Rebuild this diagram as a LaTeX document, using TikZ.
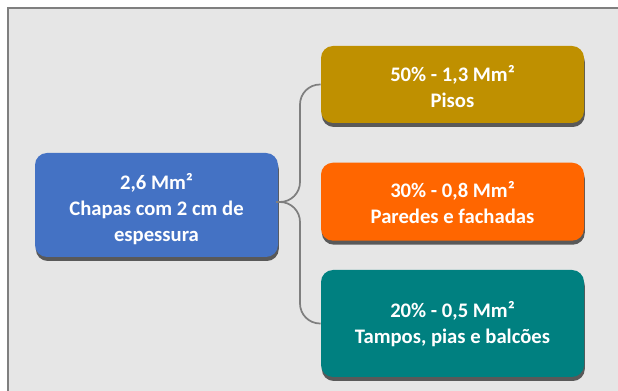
\documentclass[tikz,border=0pt]{standalone}
\usepackage{fontspec}
\setmainfont{Carlito}
\usetikzlibrary{shadows}
\definecolor{framebg}{HTML}{E6E6E6}
\definecolor{frameline}{HTML}{7F7F7F}
\definecolor{cblue}{HTML}{4472C4}
\definecolor{cgold}{HTML}{BF9000}
\definecolor{corange}{HTML}{FF6600}
\definecolor{cteal}{HTML}{008080}
\definecolor{conncol}{HTML}{7F7F7F}
\definecolor{shadowcol}{HTML}{595959}
\tikzset{
  box/.style={rounded corners=9pt, draw=none, inner sep=0pt,
    drop shadow={shadow xshift=0.6pt, shadow yshift=-3pt, fill=shadowcol, opacity=1}},
  txt/.style={text=white, align=center, inner sep=0pt,
    font=\fontsize{15.5}{19.5}\selectfont\bfseries},
  conn/.style={draw=conncol, line width=1.3pt, rounded corners=15pt},
}
\begin{document}
\begin{tikzpicture}[x=0.75pt,y=-0.75pt]
\useasboundingbox (0,0) rectangle (618,391);
\fill[white] (0,0) rectangle (618,391);
\fill[framebg] (8,8) rectangle (618,391);
\draw[frameline, line width=1.5pt] (8,391) -- (8,8) -- (618,8);
\node[box, fill=cblue, minimum width=182.25pt, minimum height=78pt] (c) at (156.5,205) {};
\node[txt] (ct) at ([yshift=-3pt]c.center) {2,6 Mm²\\Chapas com 2 cm de\\espessura};
\node[box, fill=cgold, minimum width=197.25pt, minimum height=57.75pt] (t) at (452.5,84.5) {};
\node[txt] (tt) at ([yshift=-1.5pt]t.center) {50\% - 1,3 Mm²\\Pisos};
\node[box, fill=corange, minimum width=197.25pt, minimum height=58.5pt] (m) at (452.5,201.7) {};
\node[txt] (mt) at ([yshift=-1pt]m.center) {30\% - 0,8 Mm²\\Paredes e fachadas};
\node[box, fill=cteal, minimum width=197.25pt, minimum height=80.25pt] (b) at (452.5,323.5) {};
\node[txt] (bt) at ([yshift=-0.75pt]b.center) {20\% - 0,5 Mm²\\Tampos, pias e balcões};
\coordinate (bus) at (300,202);
\coordinate (tip) at (276,202);
\draw[conn] (tip) -- (bus) |- (t.west);
\draw[conn] (tip) -- (bus) |- (b.west);
\end{tikzpicture}
\end{document}
